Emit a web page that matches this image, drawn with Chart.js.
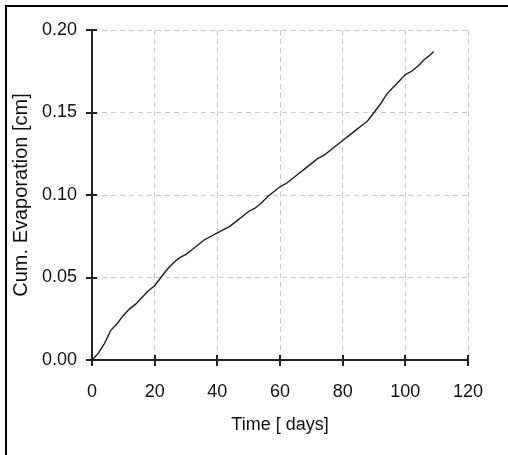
<!DOCTYPE html>
<html>
<head>
<meta charset="utf-8">
<script src="https://cdn.jsdelivr.net/npm/chart.js@4"></script>
<style>
  body { margin: 0; background: #fff; }
  #wrap { position: relative; width: 508px; height: 455px; overflow: hidden; }
  #frame { position: absolute; left: 5px; top: 5px; right: -10px; bottom: -10px;
           border-top: 2px solid #000; border-left: 2px solid #000; pointer-events: none; }
  canvas { position: absolute; left: 0; top: 0; }
</style>
</head>
<body>
<div id="wrap">
  <canvas id="evapChart" width="508" height="455"></canvas>
  <div id="frame"></div>
</div>
<script>
// time in days and cumulative evaporation in cm
const timeDays = [0, 1, 2, 3, 4, 5, 6, 8, 10, 12, 14, 16, 18, 20, 22, 24, 26, 28, 30,
  32, 34, 36, 38, 40, 42, 44, 46, 48, 50, 52, 54, 56, 58, 60, 62, 64, 66, 68, 70,
  72, 74, 76, 78, 80, 82, 84, 86, 88, 90, 92, 94, 96, 98, 100, 102, 104, 106, 108, 109];
const cumEvap = [0, 0.002, 0.004, 0.007, 0.010, 0.014, 0.018, 0.022, 0.027, 0.031, 0.034,
  0.038, 0.042, 0.045, 0.050, 0.055, 0.059, 0.062, 0.064, 0.067, 0.070, 0.073, 0.075,
  0.077, 0.079, 0.081, 0.084, 0.087, 0.090, 0.092, 0.095, 0.099, 0.102, 0.105, 0.107,
  0.110, 0.113, 0.116, 0.119, 0.122, 0.124, 0.127, 0.130, 0.133, 0.136, 0.139, 0.142,
  0.145, 0.150, 0.155, 0.161, 0.165, 0.169, 0.173, 0.175, 0.178, 0.182, 0.185, 0.187];

const xTicks = [0, 20, 40, 60, 80, 100, 120];
const yTicks = [0, 0.05, 0.10, 0.15, 0.20];

const xTitle = "Time [ days]";
const yTitle = "Cum. Evaporation [cm]";

const FONT = "'Liberation Sans', Arial, sans-serif";

// little tick marks that cross the axis lines
const crossTicks = {
  id: "crossTicks",
  afterDraw(chart) {
    const { ctx, scales: { x, y } } = chart;
    ctx.save();
    ctx.strokeStyle = "#222";
    ctx.lineWidth = 2;
    ctx.beginPath();
    xTicks.forEach(t => {
      const px = Math.round(x.getPixelForValue(t));
      ctx.moveTo(px, y.bottom - 5);
      ctx.lineTo(px, y.bottom + 6);
    });
    yTicks.forEach(t => {
      const py = Math.round(y.getPixelForValue(t));
      ctx.moveTo(x.left - 6, py);
      ctx.lineTo(x.left + 5, py);
    });
    ctx.stroke();
    ctx.restore();
  }
};

const gridStyle = {
  color: "#cacaca",
  lineWidth: 1,
  drawTicks: false
};

// in v4 the dash of the grid lines lives under "border"
const axisBorder = { display: true, color: "#222", width: 2, dash: [5, 4] };

new Chart(document.getElementById("evapChart"), {
  type: "scatter",
  data: {
    datasets: [{
      data: timeDays.map((t, i) => ({ x: t, y: cumEvap[i] })),
      showLine: true,
      borderColor: "#1e1e1e",
      borderWidth: 1.4,
      pointRadius: 0,
      tension: 0
    }]
  },
  options: {
    responsive: false,
    animation: false,
    devicePixelRatio: 1,
    layout: { padding: { top: 30, right: 40, bottom: 0, left: 0 } },
    plugins: { legend: { display: false }, tooltip: { enabled: false } },
    scales: {
      x: {
        type: "linear",
        min: 0,
        max: 120,
        afterFit: s => { s.height = 95; },
        afterBuildTicks: s => { s.ticks = xTicks.map(v => ({ value: v })); },
        grid: gridStyle,
        border: axisBorder,
        ticks: {
          padding: 21,
          color: "#111",
          font: { family: FONT, size: 18 },
          callback: v => String(v)
        },
        title: {
          display: true,
          text: xTitle,
          color: "#111",
          font: { family: FONT, size: 18 },
          padding: { top: 0, bottom: 19 }
        }
      },
      y: {
        type: "linear",
        min: 0,
        max: 0.2,
        afterFit: s => { s.width = 92; },
        afterBuildTicks: s => { s.ticks = yTicks.map(v => ({ value: v })); },
        grid: gridStyle,
        border: axisBorder,
        ticks: {
          padding: 15,
          color: "#111",
          font: { family: FONT, size: 18 },
          callback: v => v.toFixed(2)
        },
        title: {
          display: true,
          text: yTitle,
          color: "#111",
          font: { family: FONT, size: 20 },
          padding: { top: 9, bottom: 0 }
        }
      }
    }
  },
  plugins: [crossTicks]
});
</script>
</body>
</html>
